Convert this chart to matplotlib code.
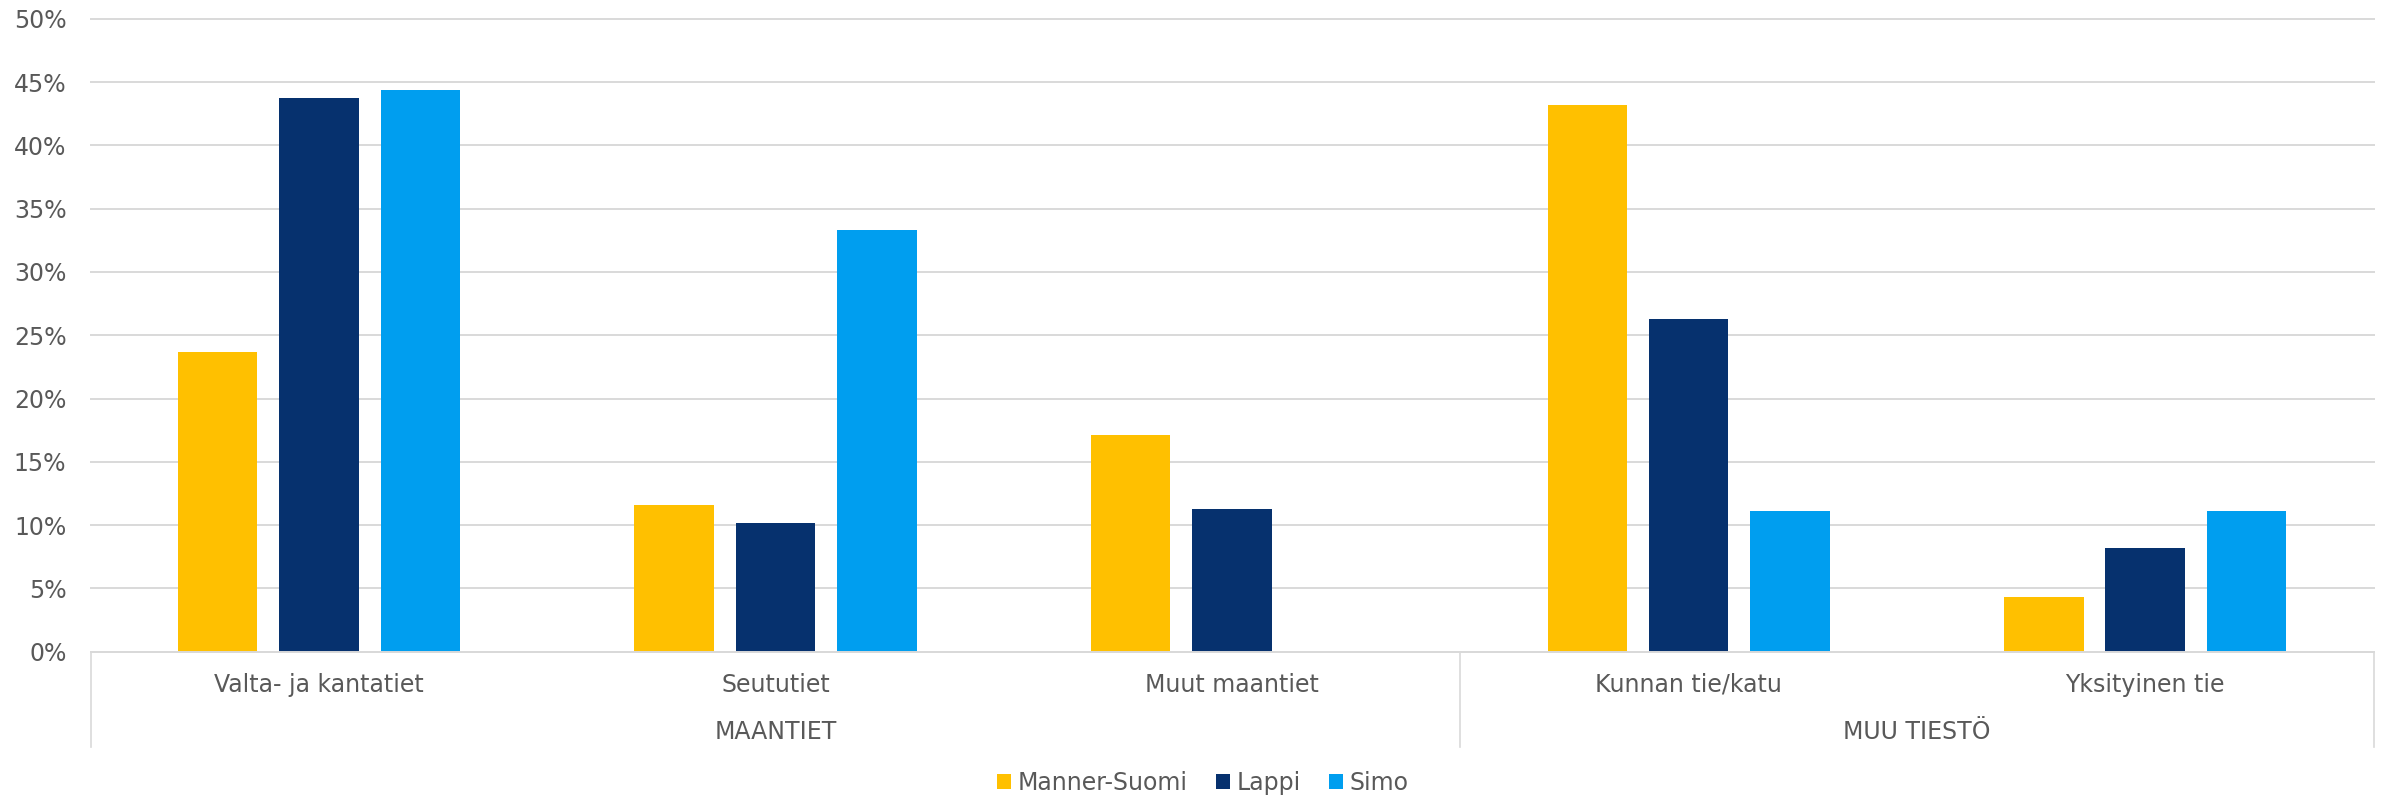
import matplotlib
matplotlib.use("Agg")
import matplotlib.pyplot as plt
from matplotlib.patches import Patch
from matplotlib.ticker import FuncFormatter, MultipleLocator
import numpy as np

categories = ["Valta- ja kantatiet", "Seututiet", "Muut maantiet", "Kunnan tie/katu", "Yksityinen tie"]
groups = ["MAANTIET", "MUU TIESTÖ"]
group_sizes = [3, 2]
series_names = ["Manner-Suomi", "Lappi", "Simo"]
manner_suomi = [0.237, 0.116, 0.171, 0.432, 0.043]
lappi = [0.437, 0.102, 0.113, 0.263, 0.082]
simo = [0.444, 0.333, 0.0, 0.111, 0.111]
colors = ["#FFC000", "#06316E", "#009EEF"]

plt.rcParams['font.family'] = ['DejaVu Sans']
TEXT = "#595959"
GRID = "#D9D9D9"
FS = 17

W, H = 2389, 797
fig = plt.figure(figsize=(W / 100, H / 100), dpi=100)
left_px, right_px, top_px, bot_px = 90.7, 2373.5, 18.7, 651.7
ax = fig.add_axes([left_px / W, 1 - bot_px / H, (right_px - left_px) / W, (bot_px - top_px) / H])

x = np.arange(len(categories))
bw = 0.174
step = 0.222
for i, (vals, c, name) in enumerate(zip([manner_suomi, lappi, simo], colors, series_names)):
    ax.bar(x + (i - 1) * step, vals, width=bw, color=c, label=name, zorder=3)

ax.set_xlim(-0.5, len(categories) - 0.5)
ax.set_ylim(0, 0.5)
ax.yaxis.set_major_locator(MultipleLocator(0.05))
ax.yaxis.set_major_formatter(FuncFormatter(lambda v, p: f"{round(v * 100)}%"))
ax.grid(axis='y', color=GRID, linewidth=1.4, zorder=0)
for gl in ax.get_ygridlines():
    gl.set_clip_on(False)
ax.set_axisbelow(True)
for s in ['top', 'right', 'left']:
    ax.spines[s].set_visible(False)
ax.spines['bottom'].set_color(GRID)
ax.spines['bottom'].set_linewidth(1.4)
ax.spines['bottom'].set_zorder(4)
ax.tick_params(axis='y', length=0, pad=17.5, labelsize=FS, labelcolor=TEXT)
ax.set_xticks([])

ah = bot_px - top_px
cat_y = -(685 - bot_px) / ah
grp_y = -(731.7 - bot_px) / ah
sep_y = -(746.7 - bot_px) / ah

for xi, cat in zip(x, categories):
    ax.text(xi, cat_y, cat, ha='center', va='center', fontsize=FS, color=TEXT,
            transform=ax.get_xaxis_transform(), clip_on=False)

start = 0
bounds = [-0.5]
for g, n in zip(groups, group_sizes):
    center = start + (n - 1) / 2
    ax.text(center, grp_y, g, ha='center', va='center', fontsize=FS, color=TEXT,
            transform=ax.get_xaxis_transform(), clip_on=False)
    start += n
    bounds.append(start - 0.5)
for b in bounds:
    ax.plot([b, b], [0, sep_y], color=GRID, linewidth=1.2,
            transform=ax.get_xaxis_transform(), clip_on=False)

handles = [Patch(facecolor=c, edgecolor='none', label=n) for c, n in zip(colors, series_names)]
leg = fig.legend(handles=handles, loc='center', bbox_to_anchor=(1203 / W, 1 - 783 / H),
                 ncol=3, frameon=False, fontsize=FS, handlelength=0.6, handleheight=0.6,
                 handletextpad=0.27, columnspacing=1.2, borderpad=0)
for t in leg.get_texts():
    t.set_color(TEXT)

fig.savefig("out.png", dpi=100)
